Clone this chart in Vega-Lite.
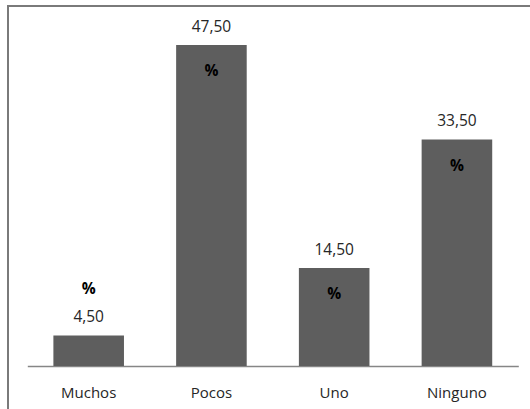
{
  "$schema": "https://vega.github.io/schema/vega-lite/v6.json",
  "width": 530,
  "height": 420,
  "autosize": {"type": "none"},
  "padding": {"left": 8, "top": 6, "right": 0, "bottom": 0},
  "background": "white",
  "config": {
    "view": {"stroke": "#7a7a7a", "strokeWidth": 2},
    "font": "Open Sans"
  },
  "data": {
    "values": [
      {"categoria": "Muchos", "valor": 4.5, "etiqueta": "4,50"},
      {"categoria": "Pocos", "valor": 47.5, "etiqueta": "47,50"},
      {"categoria": "Uno", "valor": 14.5, "etiqueta": "14,50"},
      {"categoria": "Ninguno", "valor": 33.5, "etiqueta": "33,50"}
    ]
  },
  "encoding": {
    "x": {
      "field": "categoria",
      "type": "nominal",
      "sort": null,
      "scale": {"range": [19.3, 510.3], "paddingInner": 0.425, "paddingOuter": 0.2125},
      "axis": {
        "title": null,
        "orient": "bottom",
        "offset": -60,
        "ticks": false,
        "domainColor": "#868686",
        "domainWidth": 1.3,
        "labelAngle": 0,
        "labelFont": "Open Sans",
        "labelFontSize": 15,
        "labelColor": "#262626",
        "labelBaseline": "alphabetic",
        "labelPadding": 31
      }
    },
    "y": {
      "field": "valor",
      "type": "quantitative",
      "scale": {"domain": [0, 47.5], "range": [360, 39], "nice": false, "zero": true},
      "axis": null
    }
  },
  "layer": [
    {"mark": {"type": "bar", "color": "#5e5e5e"}},
    {
      "mark": {"type": "text", "baseline": "alphabetic", "dy": -13.5, "fontSize": 15.5, "color": "#262626", "font": "Open Sans"},
      "encoding": {"text": {"field": "etiqueta"}}
    },
    {
      "transform": [{"filter": "datum.valor >= 10"}],
      "mark": {"type": "text", "baseline": "alphabetic", "dy": 31, "fontSize": 15.5, "fontWeight": "bold", "color": "#000000", "font": "Open Sans"},
      "encoding": {"text": {"value": "%"}}
    },
    {
      "transform": [{"filter": "datum.valor < 10"}],
      "mark": {"type": "text", "baseline": "alphabetic", "dy": -42, "fontSize": 15.5, "fontWeight": "bold", "color": "#000000", "font": "Open Sans"},
      "encoding": {"text": {"value": "%"}}
    }
  ]
}
